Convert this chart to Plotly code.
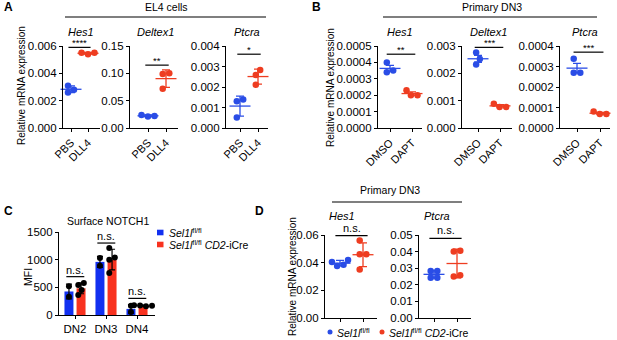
import numpy as np
import plotly.graph_objects as go

W, H = 617, 340
FONT = "Liberation Sans, Arial, sans-serif"
BLUE = "#2a4de6"
RED = "#ee3d21"
BAR_BLUE = "#1230f0"
BAR_RED = "#f8321f"

# ---------------- data ----------------
a_groups = ["PBS", "DLL4"]
a_hes1_pbs = [0.0031, 0.0028, 0.0026]
a_hes1_dll4 = [0.0054, 0.0055, 0.0055]
a_dtx1_pbs = [0.021, 0.024, 0.022]
a_dtx1_dll4 = [0.100, 0.099, 0.072]
a_ptcra_pbs = [0.00139, 0.00131, 0.00051]
a_ptcra_dll4 = [0.00283, 0.00259, 0.00211]
a_sig = ["****", "**", "*"]

b_groups = ["DMSO", "DAPT"]
b_hes1_dmso = [0.00040, 0.00035, 0.00034]
b_hes1_dapt = [0.00023, 0.00020, 0.00020]
b_dtx1_dmso = [0.00276, 0.00252, 0.00232]
b_dtx1_dapt = [0.00089, 0.00077, 0.00077]
b_ptcra_dmso = [0.000338, 0.000269, 0.000269]
b_ptcra_dapt = [0.000080, 0.000068, 0.000068]
b_sig = ["**", "***", "***"]

c_stages = ["DN2", "DN3", "DN4"]
c_ctrl = [[520, 330], [1030, 890], [165, 55]]
c_cko = [[580, 540, 450, 360], [1210, 1040, 1000, 760], [178, 172, 165, 158]]
c_sig = ["n.s.", "n.s.", "n.s."]

d_hes1_ctrl = [0.0375, 0.0385, 0.0405, 0.0420]
d_hes1_cko = [0.0560, 0.0460, 0.0460, 0.0350]
d_ptcra_ctrl = [0.0283, 0.0283, 0.0243, 0.0243]
d_ptcra_cko = [0.0400, 0.0405, 0.0250, 0.0258]
d_sig = ["n.s.", "n.s."]

ctrl_label = "<i>Sel1l</i><sup>fl/fl</sup>"
cko_label = "<i>Sel1l</i><sup>fl/fl</sup> <i>CD2</i>-iCre"


def fx(p):
    return p / W


def fy(p):
    return 1 - p / H


fig = go.Figure()
shapes, annots = [], []
layout = {}


def swarm(vals, sx, sy, d=6.6):
    vals = np.asarray(vals, float)
    order = np.argsort(vals)
    placed = []
    offs = np.zeros(len(vals))
    for i in order:
        y = vals[i] * sy
        cands = [0.0]
        for xp, yp in placed:
            dy = abs(y - yp)
            if dy < d:
                dx = np.sqrt(d * d - dy * dy)
                cands += [xp + dx, xp - dx]
        cands.sort(key=lambda c: (round(abs(c), 6), -c))
        chosen = cands[-1]
        for c in cands:
            if all((c - xp) ** 2 + (y - yp) ** 2 >= d * d - 1e-6 for xp, yp in placed):
                chosen = c
                break
        placed.append((chosen, y))
        offs[i] = chosen
    offs = offs - (offs.max() + offs.min()) / 2
    return offs / sx


def ann(text, px, py, size=10.5, italic=False, bold=False, angle=0, xanchor="center", yanchor="middle"):
    if italic:
        text = "<i>" + text + "</i>"
    if bold:
        text = "<b>" + text + "</b>"
    annots.append(dict(text=text, x=fx(px), y=fy(py), xref="paper", yref="paper",
                       showarrow=False, xanchor=xanchor, yanchor=yanchor, textangle=angle,
                       font=dict(family=FONT, size=size, color="black")))


def hline(x0, x1, y, width=1.1):
    shapes.append(dict(type="line", xref="paper", yref="paper", x0=fx(x0), x1=fx(x1),
                       y0=fy(y), y1=fy(y), line=dict(color="black", width=width)))


axis_common = dict(showline=True, linecolor="black", linewidth=1.1, ticks="outside",
                   ticklen=3, tickwidth=1.1, tickcolor="black", showgrid=False, zeroline=False,
                   automargin=False, fixedrange=True)
YTICK_FONT = dict(family=FONT, size=11.5, color="black")
XTICK_FONT = dict(family=FONT, size=11, color="black")


def dot_panel(n, x0, x1, t0, t1, ytop, ybot, ymax, ystep, fmt, cats, groups, colors, err,
              sig, sig_y, sig_half=0.65):
    sfx = "" if n == 1 else str(n)
    s = t1 - t0
    sy = (ybot - ytop) / ymax
    yt = list(np.arange(0, ymax + ystep / 2, ystep))
    xa = dict(domain=[fx(x0), fx(x1)], anchor="y" + sfx,
              range=[-(t0 - x0) / s, 1 + (x1 - t1) / s], tickvals=[0, 1],
              tickfont=XTICK_FONT, **axis_common)
    if cats is None:
        xa["showticklabels"] = False
    else:
        xa["ticktext"] = cats
        xa["tickangle"] = -45
    layout["xaxis" + sfx] = xa
    layout["yaxis" + sfx] = dict(domain=[fy(ybot), fy(ytop)], anchor="x" + sfx,
                                 range=[0, ymax], tickvals=yt, tickfont=YTICK_FONT,
                                 ticktext=[fmt.format(v) for v in yt], **axis_common)
    for gi, (vals, col) in enumerate(zip(groups, colors)):
        v = np.asarray(vals, float)
        offs = swarm(v, s, sy)
        fig.add_trace(go.Scatter(x=gi + offs, y=v, mode="markers", xaxis="x" + sfx, yaxis="y" + sfx,
                                 marker=dict(color=col, size=6.5), cliponaxis=False,
                                 hoverinfo="y", showlegend=False))
        m = v.mean()
        e = v.std(ddof=1)
        if err == "sem":
            e = e / np.sqrt(len(v))
        fig.add_trace(go.Scatter(x=[gi], y=[m], mode="markers", xaxis="x" + sfx, yaxis="y" + sfx,
                                 marker=dict(symbol="line-ew", size=15, color=col,
                                             line=dict(color=col, width=1.3)),
                                 error_y=dict(type="data", array=[e], visible=True, color=col,
                                              thickness=1.3, width=4),
                                 cliponaxis=False, hoverinfo="skip", showlegend=False))
    shapes.append(dict(type="line", xref="x" + sfx, yref="y" + sfx, x0=0.5 - sig_half,
                       x1=0.5 + sig_half, y0=sig_y, y1=sig_y, line=dict(color="black", width=1.2)))
    is_ns = sig.startswith("n")
    annots.append(dict(text=sig, x=0.5, y=sig_y, xref="x" + sfx, yref="y" + sfx, showarrow=False,
                       xanchor="center", yanchor="bottom", yshift=(0 if is_ns else -3),
                       font=dict(family=FONT, size=11 if is_ns else 9.5, color="black")))


# ---------- Panel A ----------
dot_panel(1, 63, 100, 71, 88, 46, 128, 0.006, 0.002, "{:.3f}", a_groups,
          [a_hes1_pbs, a_hes1_dll4], [BLUE, RED], "sd", a_sig[0], 0.0059)
dot_panel(2, 130, 178, 148, 166, 46, 128, 0.15, 0.05, "{:.2f}", a_groups,
          [a_dtx1_pbs, a_dtx1_dll4], [BLUE, RED], "sd", a_sig[1], 0.115)
dot_panel(3, 226, 268, 240, 258, 46, 128, 0.004, 0.001, "{:.3f}", a_groups,
          [a_ptcra_pbs, a_ptcra_dll4], [BLUE, RED], "sd", a_sig[2], 0.0036)

# ---------- Panel B ----------
dot_panel(4, 378, 422, 390, 412, 46, 128, 0.0005, 0.0001, "{:.4f}", b_groups,
          [b_hes1_dmso, b_hes1_dapt], [BLUE, RED], "sem", b_sig[0], 0.00045)
dot_panel(5, 462, 512, 478, 500, 46, 128, 0.003, 0.001, "{:.3f}", b_groups,
          [b_dtx1_dmso, b_dtx1_dapt], [BLUE, RED], "sem", b_sig[1], 0.00295)
dot_panel(6, 560, 610, 577, 600, 46, 128, 0.0004, 0.0001, "{:.4f}", b_groups,
          [b_ptcra_dmso, b_ptcra_dapt], [BLUE, RED], "sem", b_sig[2], 0.00037)

# ---------- Panel D ----------
dot_panel(8, 325, 377, 340, 363, 235, 318, 0.06, 0.02, "{:.2f}", None,
          [d_hes1_ctrl, d_hes1_cko], [BLUE, RED], "sd", d_sig[0], 0.0595, 0.7)
dot_panel(9, 419, 471, 434, 457, 235, 318, 0.05, 0.01, "{:.2f}", None,
          [d_ptcra_ctrl, d_ptcra_cko], [BLUE, RED], "sd", d_sig[1], 0.048, 0.7)

# ---------- Panel C ----------
cx0, cx1, ct0, ct1 = 59, 155, 75, 106
cs = ct1 - ct0
c_ymax = 1500
csy = (315 - 232) / c_ymax
layout["xaxis7"] = dict(domain=[fx(cx0), fx(cx1)], anchor="y7",
                        range=[-(ct0 - cx0) / cs, 2 + (cx1 - (ct0 + 2 * cs)) / cs],
                        tickvals=[0, 1, 2], ticktext=c_stages, tickangle=0,
                        tickfont=dict(family=FONT, size=11.5, color="black"), **axis_common)
layout["yaxis7"] = dict(domain=[fy(315), fy(232)], anchor="x7", range=[0, c_ymax],
                        tickvals=[0, 500, 1000, 1500], ticktext=["0", "500", "1000", "1500"],
                        tickfont=YTICK_FONT, **axis_common)
bar_w, bar_off = 0.29, 0.05
tops = []
for groups, col, side in [(c_ctrl, BAR_BLUE, -1), (c_cko, BAR_RED, 1)]:
    means = [np.mean(g) for g in groups]
    sds = [np.std(g, ddof=1) for g in groups]
    tops.append([m + s for m, s in zip(means, sds)])
    xs = np.arange(len(groups))
    fig.add_trace(go.Bar(x=xs, y=means, width=bar_w,
                         offset=(-bar_off - bar_w if side < 0 else bar_off),
                         marker=dict(color=col, line=dict(width=0)), xaxis="x7", yaxis="y7",
                         error_y=dict(type="data", array=sds, visible=True, color="black",
                                      thickness=1.2, width=3),
                         showlegend=False, hoverinfo="y"))
    center = side * (bar_off + bar_w / 2)
    for i, g in enumerate(groups):
        offs = swarm(g, cs, csy, d=6)
        fig.add_trace(go.Scatter(x=i + center + offs, y=g, mode="markers", xaxis="x7", yaxis="y7",
                                 marker=dict(color="black", size=6), cliponaxis=False,
                                 showlegend=False, hoverinfo="y"))
for i, sig in enumerate(c_sig):
    ly = max(tops[0][i], tops[1][i]) + 0.075 * c_ymax
    shapes.append(dict(type="line", xref="x7", yref="y7", x0=i - 0.28, x1=i + 0.3, y0=ly, y1=ly,
                       line=dict(color="black", width=1.2)))
    annots.append(dict(text=sig, x=i, y=ly, xref="x7", yref="y7", showarrow=False,
                       xanchor="center", yanchor="bottom", yshift=-1,
                       font=dict(family=FONT, size=11, color="black")))

# ---------- headers, titles, labels ----------
ann("A", 2, 7, size=12, bold=True, xanchor="left")
ann("B", 310, 7, size=12, bold=True, xanchor="left")
ann("C", 2, 211, size=12, bold=True, xanchor="left")
ann("D", 253, 211, size=12, bold=True, xanchor="left")

ann("EL4 cells", 166, 7)
hline(65, 266, 17)
ann("Primary DN3", 492, 7)
hline(383, 597, 17)
ann("Primary DN3", 390, 190)
hline(332, 462, 202)

for t, px in [("Hes1", 81), ("Deltex1", 155), ("Ptcra", 247)]:
    ann(t, px, 32, size=11, italic=True)
for t, px in [("Hes1", 400), ("Deltex1", 488), ("Ptcra", 585)]:
    ann(t, px, 32, size=11, italic=True)
for t, px in [("Hes1", 342), ("Ptcra", 437)]:
    ann(t, px, 216, size=11, italic=True)
ann("Surface NOTCH1", 108, 221)

ann("Relative mRNA expression", 21, 86, size=10, angle=-90)
ann("Relative mRNA expression", 330, 87, size=10, angle=-90)
ann("Relative mRNA expression", 292, 277, size=10, angle=-90)
ann("MFI", 28, 277, size=10.5, angle=-90)

# C legend
for py, col, lab in [(232.5, BAR_BLUE, ctrl_label), (244.5, BAR_RED, cko_label)]:
    shapes.append(dict(type="rect", xref="paper", yref="paper", x0=fx(157), x1=fx(163.5),
                       y0=fy(py + 2.8), y1=fy(py - 2.8), fillcolor=col, line=dict(width=0)))
    ann(lab, 167, py, size=10.5, xanchor="left")

# D legend
for px, col, lab in [(330, BLUE, ctrl_label), (382, RED, cko_label)]:
    shapes.append(dict(type="circle", xref="paper", yref="paper", x0=fx(px - 2.5), x1=fx(px + 2.5),
                       y0=fy(332 + 2.5), y1=fy(332 - 2.5), fillcolor=col, line=dict(width=0)))
    ann(lab, px + 5, 332, size=10.5, xanchor="left")

fig.update_layout(width=W, height=H, margin=dict(l=0, r=0, t=0, b=0, pad=0), autosize=False,
                  template="none",
                  paper_bgcolor="white", plot_bgcolor="white", showlegend=False,
                  barmode="overlay", shapes=shapes, annotations=annots,
                  font=dict(family=FONT, size=10.5, color="black"), **layout)
fig.write_html("out.html", config={"displayModeBar": False},
               post_script="document.documentElement.style.margin='0';"
                           "document.body.style.margin='0';document.body.style.padding='0';")
